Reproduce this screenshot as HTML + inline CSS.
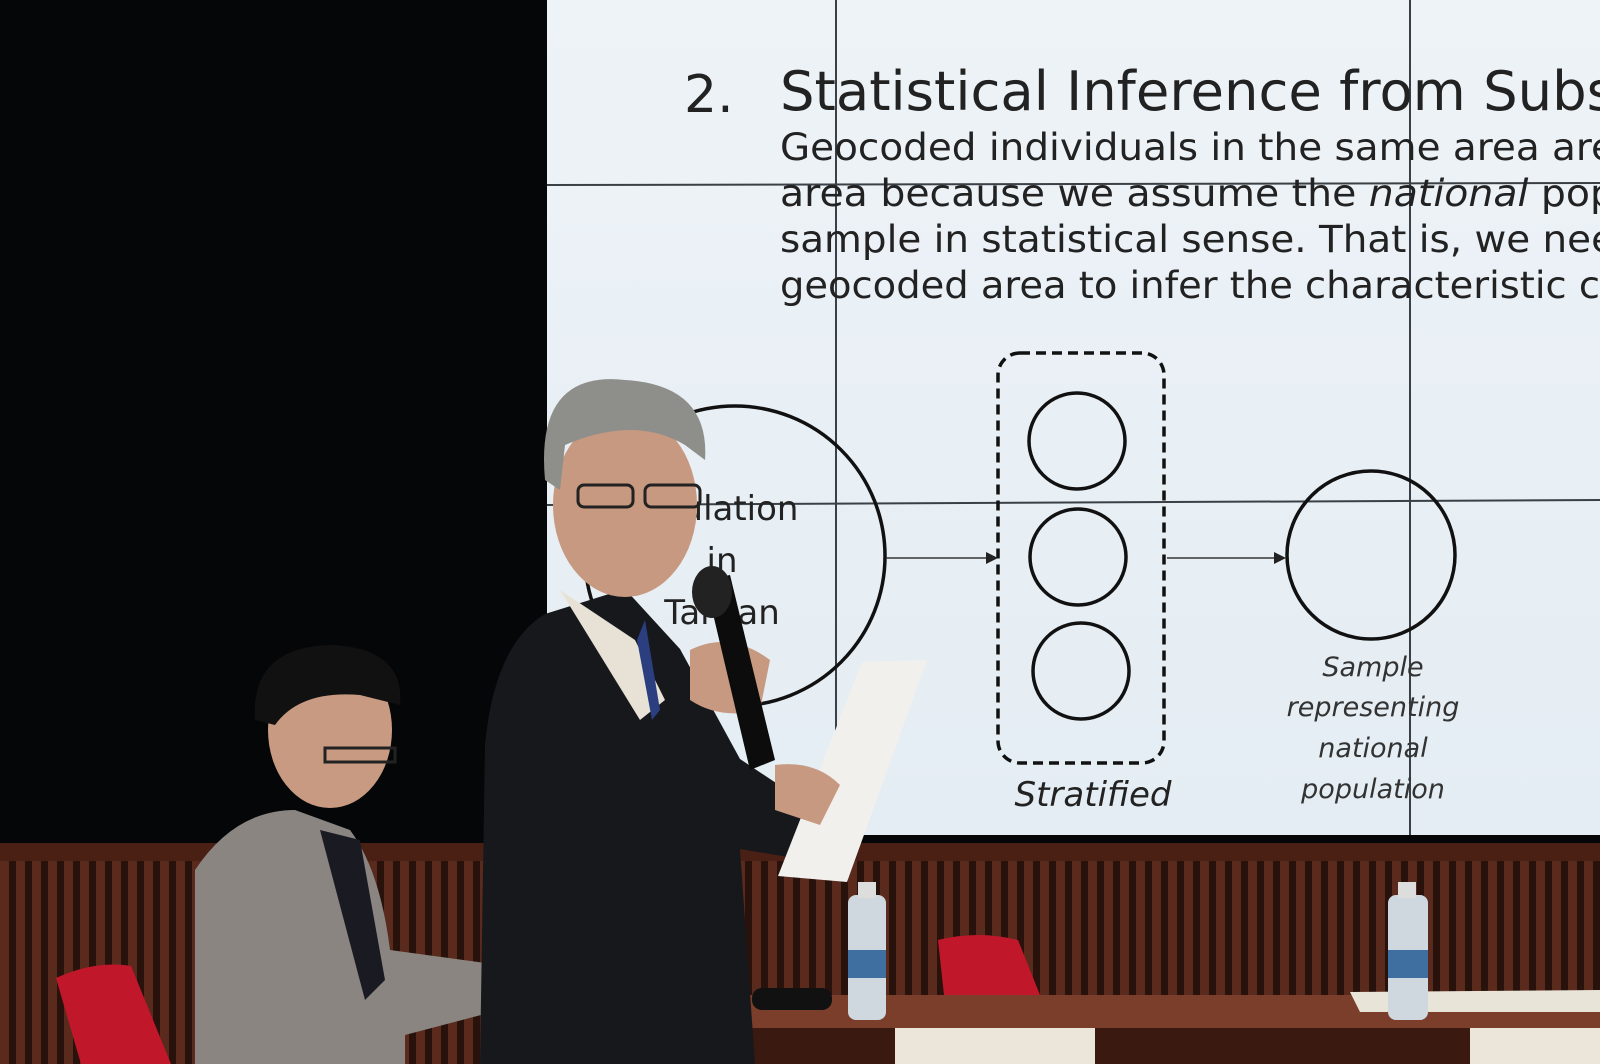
<!DOCTYPE html>
<html><head><meta charset="utf-8"><style>
html,body{margin:0;padding:0;background:#000;}
svg{display:block}
text{font-family:"DejaVu Sans","Liberation Sans",sans-serif;}
</style></head><body>
<svg width="1600" height="1064" viewBox="0 0 1600 1064" xmlns="http://www.w3.org/2000/svg">
<defs>
<linearGradient id="scr" x1="0" y1="0" x2="0" y2="1"><stop offset="0" stop-color="#eef3f7"/><stop offset="1" stop-color="#e4edf3"/></linearGradient>
<pattern id="slats" width="16" height="20" patternUnits="userSpaceOnUse"><rect width="16" height="20" fill="#2a120c"/><rect x="0" width="9" height="20" fill="#5a2a1c"/></pattern>
</defs>
<rect width="1600" height="1064" fill="#050607"/>
<rect x="547" y="0" width="1053" height="835" fill="url(#scr)"/>
<g stroke="#3a4045" stroke-width="2">
<line x1="836" y1="0" x2="836" y2="835"/><line x1="1410" y1="0" x2="1410" y2="835"/>
<line x1="547" y1="185" x2="1600" y2="183"/><line x1="547" y1="505" x2="1600" y2="500"/>
</g>
<text x="684" y="112" font-size="52" fill="#222">2.</text>
<text x="780" y="110" font-size="54" fill="#222" textLength="835" lengthAdjust="spacingAndGlyphs">Statistical Inference from Subs</text>
<g font-size="37" fill="#222">
<text x="780" y="160" textLength="835" lengthAdjust="spacingAndGlyphs">Geocoded individuals in the same area are</text>
<text x="780" y="206" textLength="835" lengthAdjust="spacingAndGlyphs">area because we assume the <tspan font-style="italic">national</tspan> pop</text>
<text x="780" y="252" textLength="835" lengthAdjust="spacingAndGlyphs">sample in statistical sense. That is, we nee</text>
<text x="780" y="298" textLength="820" lengthAdjust="spacingAndGlyphs">geocoded area to infer the characteristic c</text>
</g>
<circle cx="735" cy="556" r="150" fill="none" stroke="#111" stroke-width="3.5"/>
<g font-size="34" fill="#222" text-anchor="middle">
<text x="740" y="520">ulation</text><text x="722" y="572">in</text><text x="722" y="624">Taiwan</text>
</g>
<rect x="998" y="353" width="166" height="410" rx="22" fill="none" stroke="#111" stroke-width="3.5" stroke-dasharray="10,6"/>
<g fill="none" stroke="#111" stroke-width="3.5">
<circle cx="1077" cy="441" r="48"/><circle cx="1078" cy="557" r="48"/><circle cx="1081" cy="671" r="48"/>
</g>
<circle cx="1371" cy="555" r="84" fill="none" stroke="#111" stroke-width="3.5"/>
<g stroke="#333" stroke-width="1.5">
<line x1="886" y1="558" x2="990" y2="558"/><line x1="1167" y1="558" x2="1278" y2="558"/>
</g>
<polygon points="998,558 986,552 986,564" fill="#222"/><polygon points="1286,558 1274,552 1274,564" fill="#222"/>
<text x="1093" y="806" font-size="34" font-style="italic" fill="#222" text-anchor="middle">Stratified</text>
<g font-size="27" font-style="italic" fill="#333" text-anchor="middle">
<text x="1373" y="676">Sample</text><text x="1373" y="716">representing</text><text x="1373" y="757">national</text><text x="1373" y="798">population</text>
</g>
<rect x="0" y="843" width="1600" height="221" fill="url(#slats)"/>
<rect x="0" y="843" width="1600" height="18" fill="#4a2015"/>
<rect x="750" y="995" width="850" height="35" fill="#7a3e2a"/>
<rect x="750" y="1028" width="850" height="36" fill="#3a1a10"/>
<rect x="895" y="1028" width="200" height="36" fill="#ece6da"/><rect x="1470" y="1028" width="130" height="36" fill="#ece6da"/>
<polygon points="1350,992 1600,990 1600,1012 1360,1012" fill="#e8e4d8"/>
<path d="M938,940 q40,-10 80,0 l22,55 h-96 z" fill="#c0182a"/>
<path d="M56,978 q40,-18 75,-12 l40,98 h-90 z" fill="#c0182a"/>
<g>
<rect x="848" y="895" width="38" height="125" rx="8" fill="#cfd8de"/><rect x="858" y="882" width="18" height="16" fill="#ddd"/><rect x="848" y="950" width="38" height="28" fill="#3f6fa0"/>
<rect x="1388" y="895" width="40" height="125" rx="8" fill="#cfd8de"/><rect x="1398" y="882" width="18" height="16" fill="#ddd"/><rect x="1388" y="950" width="40" height="28" fill="#3f6fa0"/>
</g>
<rect x="752" y="988" width="80" height="22" rx="10" fill="#111"/>
<g>
<path d="M195,870 q40,-60 100,-60 l55,20 q30,40 40,120 l110,15 v45 l-95,25 v50 h-210 z" fill="#8a8580"/>
<path d="M320,830 l40,10 l25,140 l-20,20 z" fill="#1a1a22"/>
<ellipse cx="330" cy="730" rx="62" ry="78" fill="#c99a82"/>
<path d="M255,720 q-5,-75 80,-75 q70,5 65,60 l-40,-10 q-60,-5 -85,30 z" fill="#111"/>
<rect x="325" y="748" width="70" height="14" fill="none" stroke="#222" stroke-width="3"/>
</g>
<g>
<path d="M480,1064 l5,-320 q10,-100 60,-130 l80,-25 l55,60 l60,110 l90,60 l-30,40 l-60,-10 l15,215 z" fill="#17181c"/>
<path d="M560,590 l75,50 l30,60 l-25,20 z" fill="#e8e2d6"/>
<path d="M645,620 l15,90 l-8,10 l-15,-80 z" fill="#2b3f80"/>
<ellipse cx="625" cy="505" rx="72" ry="92" fill="#c79980"/>
<path d="M545,480 q-10,-110 80,-100 q85,5 80,80 l-20,-15 q-50,-30 -120,0 l-5,45 z" fill="#8e8e8a"/>
<rect x="578" y="485" width="55" height="22" rx="6" fill="none" stroke="#222" stroke-width="3"/>
<rect x="645" y="485" width="55" height="22" rx="6" fill="none" stroke="#222" stroke-width="3"/>
<path d="M690,650 q40,-20 80,10 l-10,50 q-40,10 -70,-10 z" fill="#c79980"/>
<path d="M705,580 l25,-5 l45,185 l-25,10 z" fill="#0c0c0c"/>
<ellipse cx="712" cy="592" rx="20" ry="26" fill="#222"/>
<polygon points="862,662 927,660 847,882 778,876" fill="#f2f0ec"/>
<path d="M775,765 q40,-5 65,20 l-20,40 l-45,-15 z" fill="#c79980"/>
</g>
</svg>
</body></html>
